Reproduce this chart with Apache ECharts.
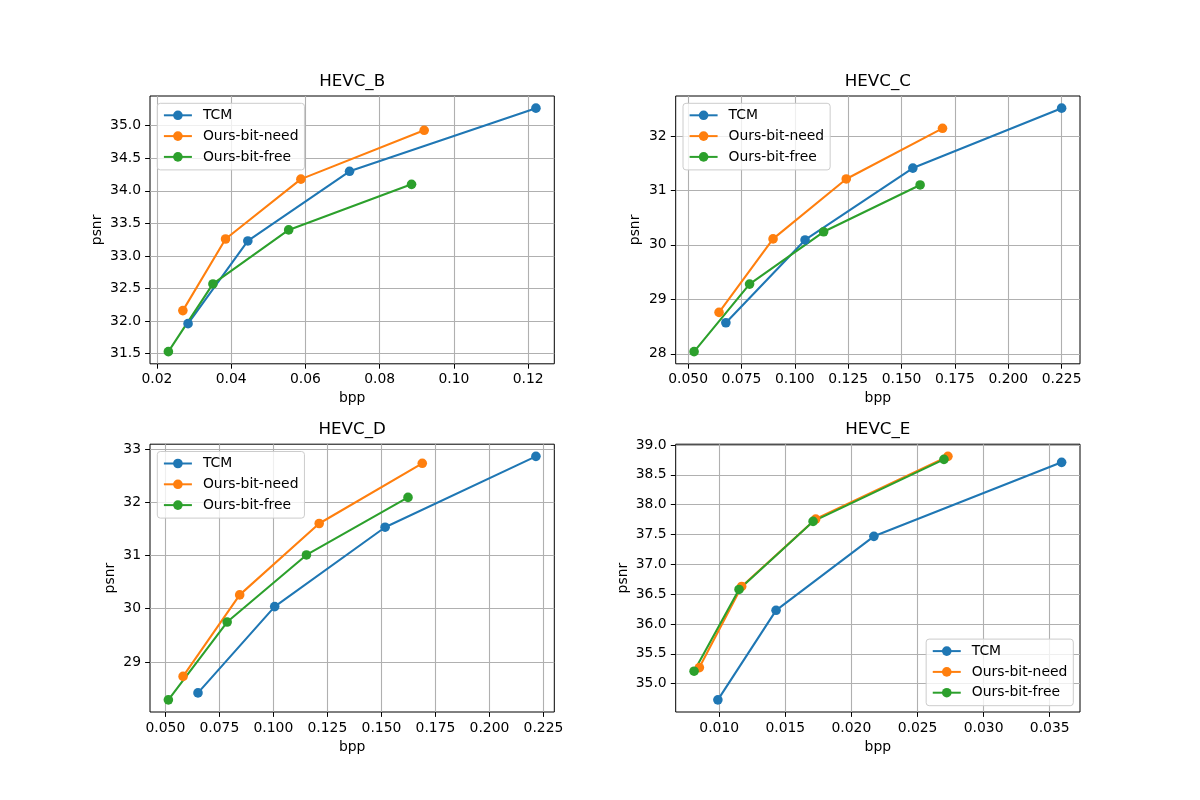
<!DOCTYPE html>
<html>
<head>
<meta charset="utf-8">
<title>HEVC rate-distortion</title>
<script src="https://cdn.jsdelivr.net/npm/echarts@6/dist/echarts.min.js"></script>
<style>
  html, body { margin: 0; padding: 0; background: #fff; }
  #chart { width: 1200px; height: 800px; }
</style>
</head>
<body>
<div id="chart"></div>
<script>
var panelNames = ['HEVC_B', 'HEVC_C', 'HEVC_D', 'HEVC_E'];
var seriesNames = ['TCM', 'Ours-bit-need', 'Ours-bit-free'];
var colors = ['#1f77b4', '#ff7f0e', '#2ca02c'];

// HEVC_B
var bTcmX = [0.0284, 0.0445, 0.0719, 0.1221];
var bTcmY = [31.96, 33.23, 34.30, 35.27];
var bNeedX = [0.0270, 0.0385, 0.0588, 0.0920];
var bNeedY = [32.16, 33.26, 34.18, 34.93];
var bFreeX = [0.0231, 0.0351, 0.0555, 0.0886];
var bFreeY = [31.53, 32.57, 33.40, 34.10];

// HEVC_C
var cTcmX = [0.0677, 0.1048, 0.1553, 0.2250];
var cTcmY = [28.57, 30.09, 31.41, 32.51];
var cNeedX = [0.0645, 0.0898, 0.1241, 0.1692];
var cNeedY = [28.76, 30.11, 31.21, 32.14];
var cFreeX = [0.0528, 0.0788, 0.1135, 0.1587];
var cFreeY = [28.04, 29.28, 30.24, 31.10];

// HEVC_D
var dTcmX = [0.0651, 0.1006, 0.1517, 0.2215];
var dTcmY = [28.42, 30.04, 31.53, 32.86];
var dNeedX = [0.0582, 0.0844, 0.1212, 0.1689];
var dNeedY = [28.73, 30.26, 31.60, 32.73];
var dFreeX = [0.0514, 0.0786, 0.1153, 0.1623];
var dFreeY = [28.29, 29.75, 31.01, 32.09];

// HEVC_E
var eTcmX = [0.0099, 0.0143, 0.0217, 0.0359];
var eTcmY = [34.73, 36.23, 37.47, 38.71];
var eNeedX = [0.0085, 0.0117, 0.0173, 0.0273];
var eNeedY = [35.27, 36.63, 37.76, 38.81];
var eFreeX = [0.0081, 0.0115, 0.0171, 0.0270];
var eFreeY = [35.21, 36.58, 37.72, 38.76];

// tick labels
var bTicksX = [0.02, 0.04, 0.06, 0.08, 0.10, 0.12];
var bTicksY = [31.5, 32.0, 32.5, 33.0, 33.5, 34.0, 34.5, 35.0];
var cTicksX = [0.050, 0.075, 0.100, 0.125, 0.150, 0.175, 0.200, 0.225];
var cTicksY = [28, 29, 30, 31, 32];
var dTicksX = [0.050, 0.075, 0.100, 0.125, 0.150, 0.175, 0.200, 0.225];
var dTicksY = [29, 30, 31, 32, 33];
var eTicksX = [0.010, 0.015, 0.020, 0.025, 0.030, 0.035];
var eTicksY = [35.0, 35.5, 36.0, 36.5, 37.0, 37.5, 38.0, 38.5, 39.0];

var panels = [
  { xs: [bTcmX, bNeedX, bFreeX], ys: [bTcmY, bNeedY, bFreeY], tx: bTicksX, ty: bTicksY, dx: 2, dy: 1 },
  { xs: [cTcmX, cNeedX, cFreeX], ys: [cTcmY, cNeedY, cFreeY], tx: cTicksX, ty: cTicksY, dx: 3, dy: 0 },
  { xs: [dTcmX, dNeedX, dFreeX], ys: [dTcmY, dNeedY, dFreeY], tx: dTicksX, ty: dTicksY, dx: 3, dy: 0 },
  { xs: [eTcmX, eNeedX, eFreeX], ys: [eTcmY, eNeedY, eFreeY], tx: eTicksX, ty: eTicksY, dx: 3, dy: 1 }
];

// layout (matplotlib 2x2, wspace/hspace 0.3)
var gridPos = [[150, 96], [675.7, 96], [150, 444.2], [675.7, 444.2]];
var gw = 404.3, gh = 267.8;
var yNameGap = [46, 33, 33, 45];
var font = 'DejaVu Sans';

// matplotlib-like 5% margins
function range(arrs) {
  var all = [].concat.apply([], arrs);
  var lo = Math.min.apply(null, all), hi = Math.max.apply(null, all);
  var m = (hi - lo) * 0.05;
  return [lo - m, hi + m];
}

var grid = [], xAxis = [], yAxis = [], title = [], legend = [], series = [];

panels.forEach(function (p, i) {
  var rx = range(p.xs), ry = range(p.ys);
  grid.push({
    left: gridPos[i][0], top: gridPos[i][1], width: gw, height: gh,
    show: true, borderColor: '#000', borderWidth: 1, backgroundColor: '#fff'
  });
  title.push({
    text: panelNames[i], left: gridPos[i][0] + gw / 2, top: gridPos[i][1] - 23, textAlign: 'center', padding: 0,
    textStyle: { fontFamily: font, fontSize: 16.7, fontWeight: 'normal', color: '#000' }
  });
  xAxis.push({
    type: 'value', gridIndex: i, min: rx[0], max: rx[1],
    name: 'bpp', nameLocation: 'middle', nameGap: 28,
    nameTextStyle: { fontFamily: font, fontSize: 13.9, color: '#000' },
    axisLine: { show: false, onZero: false },
    axisTick: { show: true, length: 4.9, lineStyle: { color: '#000', width: 1 }, customValues: p.tx },
    axisLabel: {
      margin: 9, fontFamily: font, fontSize: 13.9, color: '#000', customValues: p.tx,
      formatter: (function (d) { return function (v) { return v.toFixed(d); }; })(p.dx)
    },
    splitLine: { show: true, lineStyle: { color: '#b0b0b0', width: 1.1 } }
  });
  yAxis.push({
    type: 'value', gridIndex: i, min: ry[0], max: ry[1],
    name: 'psnr', nameLocation: 'middle', nameGap: yNameGap[i], nameRotate: 90,
    nameTextStyle: { fontFamily: font, fontSize: 13.9, color: '#000' },
    axisLine: { show: false, onZero: false },
    axisTick: { show: true, length: 4.9, lineStyle: { color: '#000', width: 1 }, customValues: p.ty },
    axisLabel: {
      margin: 9, fontFamily: font, fontSize: 13.9, color: '#000', customValues: p.ty,
      formatter: (function (d) { return function (v) { return v.toFixed(d); }; })(p.dy)
    },
    splitLine: { show: true, lineStyle: { color: '#b0b0b0', width: 1.1 } }
  });
  var lg = {
    orient: 'vertical', data: seriesNames,
    itemWidth: 28, itemHeight: 12, itemGap: 6.8,
    padding: [5, 6, 6, 5.6],
    backgroundColor: 'rgba(255,255,255,0.8)', borderColor: '#cccccc', borderWidth: 1, borderRadius: 3,
    textStyle: { fontFamily: font, fontSize: 13.9, color: '#000', lineHeight: 14, padding: [0, 0, 0, 6] },
    selectedMode: false
  };
  if (i === 3) {
    lg.right = 1200 - 1073.3; lg.bottom = 800 - 705.7;
  } else {
    lg.left = gridPos[i][0] + 7.3; lg.top = gridPos[i][1] + 7.3;
  }
  legend.push(lg);
  p.xs.forEach(function (xv, k) {
    series.push({
      name: seriesNames[k], type: 'line', xAxisIndex: i, yAxisIndex: i,
      data: xv.map(function (x, j) { return [x, p.ys[k][j]]; }),
      symbol: 'circle', symbolSize: 9.6, showSymbol: true,
      lineStyle: { color: colors[k], width: 2.08 },
      itemStyle: { color: colors[k] },
      emphasis: { disabled: true }
    });
  });
});

var chart = echarts.init(document.getElementById('chart'), null, { renderer: 'canvas' });
chart.setOption({
  animation: false,
  backgroundColor: '#fff',
  color: colors,
  title: title,
  grid: grid,
  xAxis: xAxis,
  yAxis: yAxis,
  legend: legend,
  series: series
});
</script>
</body>
</html>
